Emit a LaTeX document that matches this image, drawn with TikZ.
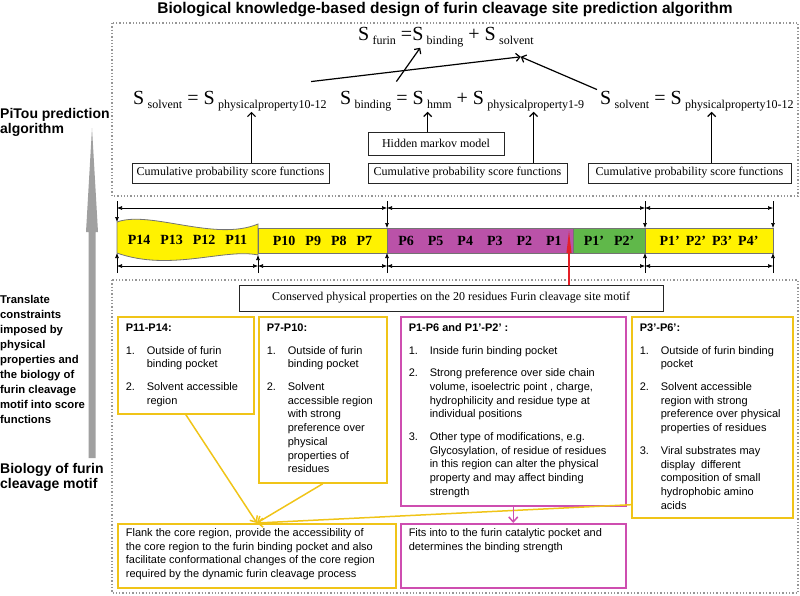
\documentclass[tikz,border=0pt]{standalone}
\usepackage{fontspec}
\setmainfont{Liberation Serif}
\setsansfont{Liberation Sans}
\usepackage{tikz}
\usetikzlibrary{arrows.meta}
\usetikzlibrary{positioning,fit,calc}

\definecolor{barYellow}{RGB}{255,242,0}
\definecolor{barMagenta}{RGB}{186,82,168}
\definecolor{barGreen}{RGB}{96,184,74}
\definecolor{boxYellow}{RGB}{240,196,24}
\definecolor{boxMagenta}{RGB}{206,78,176}
\definecolor{frameGray}{RGB}{150,150,150}
\definecolor{arrowGray}{RGB}{160,160,160}
\definecolor{redLine}{RGB}{228,32,40}

\newcommand{\sbs}[1]{\,\raisebox{-4pt}{\fontsize{12}{12}\selectfont #1}}
\newcommand{\boxText}[3]{\parbox[c][#2][t]{#1}{#3}}

\begin{document}
\begin{tikzpicture}[
  x=1pt, y=-1pt,
  title/.style={font=\sffamily\bfseries\fontsize{15.5}{15.5}\selectfont, inner sep=0pt},
  sideText/.style={font=\sffamily\bfseries\fontsize{11.3}{15}\selectfont, align=left, anchor=north west, inner sep=0pt},
  eqText/.style={font=\fontsize{20}{20}\selectfont, inner sep=1pt, anchor=base west},
  frameBox/.style={draw=frameGray, dotted, line width=1.3pt},
  upArrow/.style={-{Straight Barb[length=4pt,width=8pt]}, line width=1.2pt},
  dimArrow/.style={{Latex[length=5pt,width=4pt]}-{Latex[length=5pt,width=4pt]}, line width=0.6pt},
  tickArrow/.style={-{Latex[length=5pt,width=4pt]}, line width=0.6pt}
]
	\useasboundingbox (0,0) rectangle (800,595);

	\tikzstyle{scoreBox} = [rectangle, draw=black!85, line width=0.9pt, minimum height=20pt, inner sep=0pt, text centered, font=\fontsize{12}{12}\selectfont]
	\tikzstyle{barSeg} = [rectangle, draw=black!55, line width=0.8pt, minimum height=25pt, inner sep=0pt, outer sep=0pt, font=\bfseries\fontsize{14}{14}\selectfont]
	\tikzstyle{yellowBox} = [rectangle, draw=boxYellow, line width=1.7pt, inner xsep=8pt, inner ysep=5pt, anchor=north west, font=\sffamily\fontsize{11}{13.7}\selectfont]
	\tikzstyle{magentaBox} = [rectangle, draw=boxMagenta, line width=1.5pt, inner xsep=8pt, inner ysep=5pt, anchor=north west, font=\sffamily\fontsize{11}{13.7}\selectfont]

	% titles and side labels
	\node (mainTitle) [title, anchor=base] at (445,13) {Biological knowledge-based design of furin cleavage site prediction algorithm};
	\node (pitouLabel) [sideText, font=\sffamily\bfseries\fontsize{14}{15}\selectfont] at (0,108) {PiTou prediction\\algorithm};
	\node (translateLabel) [sideText] at (0,295) {Translate\\constraints\\imposed by\\physical\\properties and\\the biology of\\furin cleavage\\motif into score\\functions};
	\node (biologyLabel) [sideText, font=\sffamily\bfseries\fontsize{14}{15}\selectfont] at (0,463) {Biology of furin\\cleavage motif};
	\fill[arrowGray] (88.5,458) -- (88.5,232) -- (86,232) -- (92,128) -- (98,232) -- (95.5,232) -- (95.5,458) -- cycle;

	% prediction algorithm
	\draw[frameBox] (112,23) rectangle (798,196);
	\node (eqFurin) [eqText] at (357,40) {S\sbs{furin} =S\sbs{binding} + S\sbs{solvent}};
	\node (eqLeft) [eqText] at (132,104) {S\sbs{solvent} = S\sbs{physicalproperty10-12}};
	\node (eqMid) [eqText] at (339,104) {S\sbs{binding} = S\sbs{hmm} + S\sbs{physicalproperty1-9}};
	\node (eqRight) [eqText] at (599,104) {S\sbs{solvent} = S\sbs{physicalproperty10-12}};

	\node (hiddenBox) [scoreBox, minimum width=136pt, minimum height=23pt] at (436,143.5) {Hidden markov model};
	\node (cumLeft) [scoreBox, minimum width=197pt] at (230.5,173) {Cumulative probability score functions};
	\node (cumMid) [scoreBox, minimum width=199pt] at (467.5,173) {Cumulative probability score functions};
	\node (cumRight) [scoreBox, minimum width=203pt] at (689.5,173) {Cumulative probability score functions};

	\coordinate (tipLeft) at ($(eqLeft.south west)!0.61!(eqLeft.south east)$);
	\coordinate (tipHmm) at ($(eqMid.south west)!0.36!(eqMid.south east)$);
	\coordinate (tipMid) at ($(eqMid.south west)!0.79!(eqMid.south east)$);
	\coordinate (tipRight) at ($(eqRight.south west)!0.575!(eqRight.south east)$);
	\draw[upArrow] (cumLeft.north -| tipLeft) -- (tipLeft);
	\draw[upArrow] (hiddenBox.north -| tipHmm) -- (tipHmm);
	\draw[upArrow] (cumMid.north -| tipMid) -- (tipMid);
	\draw[upArrow] (cumRight.north -| tipRight) -- (tipRight);

	\coordinate (tipSolvent) at ($(eqFurin.south west)!0.92!(eqFurin.south east)+(0,9)$);
	\coordinate (tipBinding) at ($(eqFurin.south west)!0.355!(eqFurin.south east)$);
	\draw[upArrow] ($(eqLeft.north west)!0.914!(eqLeft.north east)+(0,-8)$) -- (tipSolvent);
	\draw[upArrow] ($(eqMid.north west)!0.233!(eqMid.north east)+(0,-8)$) -- (tipBinding);
	\draw[upArrow] ($(eqRight.north west)+(-2,0)$) -- (tipSolvent);

	% residue bar
	\coordinate (waveNW) at (117,222);
	\coordinate (waveNE) at (258,224);
	\coordinate (waveSE) at (258,255);
	\coordinate (waveSW) at (117,253);
	\draw[draw=black!55, line width=0.8pt, fill=barYellow] (waveNW) .. controls (150,210) and (215,242) .. (waveNE) -- (waveSE) .. controls (225,248) and (170,272) .. (waveSW) -- cycle;
	\node (segP14) [font=\bfseries\fontsize{14}{14}\selectfont, inner sep=0pt] at (187.5,240) {P14\hspace{10pt}P13\hspace{10pt}P12\hspace{10pt}P11};
	\node (segP10) [barSeg, fill=barYellow, minimum width=129pt] at (322.5,240.5) {P10\hspace{10pt}P9\hspace{10pt}P8\hspace{10pt}P7};
	\node (segP6) [barSeg, fill=barMagenta, minimum width=186pt, right=0pt of segP10] {P6\hspace{14pt}P5\hspace{14pt}P4\hspace{14pt}P3\hspace{14pt}P2\hspace{14pt}P1};
	\node (segP1p) [barSeg, fill=barGreen, minimum width=72pt, right=0pt of segP6] {P1'\hspace{10pt}P2'};
	\node (segP4p) [barSeg, fill=barYellow, minimum width=128pt, right=0pt of segP1p] {P1'\hspace{6pt}P2'\hspace{6pt}P3'\hspace{6pt}P4'};

	\coordinate (tickTop) at (0,201);
	\coordinate (dimTop) at (0,208);
	\coordinate (dimBottom) at (0,266);
	\coordinate (tickBottom) at (0,273);
	\draw[tickArrow] (waveNW |- tickTop) -- (waveNW);
	\draw[tickArrow] (segP6.north west |- tickTop) -- (segP6.north west);
	\draw[tickArrow] (segP4p.north west |- tickTop) -- (segP4p.north west);
	\draw[tickArrow] (segP4p.north east |- tickTop) -- (segP4p.north east);
	\draw[dimArrow] (waveNW |- dimTop) -- (segP6.north west |- dimTop);
	\draw[dimArrow] (segP6.north west |- dimTop) -- (segP4p.north west |- dimTop);
	\draw[dimArrow] (segP4p.north west |- dimTop) -- (segP4p.north east |- dimTop);

	\draw[tickArrow] (waveSW |- tickBottom) -- (waveSW);
	\draw[tickArrow] (waveSE |- tickBottom) -- (waveSE);
	\draw[tickArrow] (segP6.south west |- tickBottom) -- (segP6.south west);
	\draw[tickArrow] (segP4p.south west |- tickBottom) -- (segP4p.south west);
	\draw[tickArrow] (segP4p.south east |- tickBottom) -- (segP4p.south east);
	\draw[dimArrow] (waveSW |- dimBottom) -- (waveSE |- dimBottom);
	\draw[dimArrow] (waveSE |- dimBottom) -- (segP6.south west |- dimBottom);
	\draw[dimArrow] (segP6.south west |- dimBottom) -- (segP4p.south west |- dimBottom);
	\draw[dimArrow] (segP4p.south west |- dimBottom) -- (segP4p.south east |- dimBottom);

	% biology of the motif
	\draw[frameBox] (112,280) rectangle (798,593);
	\node (conservedBox) [scoreBox, minimum width=424pt, minimum height=26pt] at (451,298) {Conserved physical properties on the 20 residues Furin cleavage site motif};
	\coordinate (cleavageSite) at (569,229);
	\draw[redLine, line width=2pt, -{Triangle[length=24pt,width=4.5pt]}] (conservedBox.north -| cleavageSite) -- (cleavageSite);

	\node (boxP11) [yellowBox] at (117,316) {\boxText{120pt}{87pt}{\begin{tabular}[t]{@{}p{21pt}@{}l@{}}
		\multicolumn{2}{@{}l@{}}{\textbf{P11-P14:}}\\[9pt]
		1. & Outside of furin\\
		   & binding pocket\\[9pt]
		2. & Solvent accessible\\
		   & region
	\end{tabular}}};
	\node (boxP7) [yellowBox] at (258,316) {\boxText{112pt}{156pt}{\begin{tabular}[t]{@{}p{21pt}@{}l@{}}
		\multicolumn{2}{@{}l@{}}{\textbf{P7-P10:}}\\[9pt]
		1. & Outside of furin\\
		   & binding pocket\\[9pt]
		2. & Solvent\\
		   & accessible region\\
		   & with strong\\
		   & preference over\\
		   & physical\\
		   & properties of\\
		   & residues
	\end{tabular}}};
	\node (boxP1) [magentaBox] at (400,316) {\boxText{209pt}{179pt}{\begin{tabular}[t]{@{}p{21pt}@{}l@{}}
		\multicolumn{2}{@{}l@{}}{\textbf{P1-P6 and P1'-P2' :}}\\[9pt]
		1. & Inside furin binding pocket\\[9pt]
		2. & Strong preference over side chain\\
		   & volume, isoelectric point , charge,\\
		   & hydrophilicity and residue type at\\
		   & individual positions\\[9pt]
		3. & Other type of modifications, e.g.\\
		   & Glycosylation, of residue of residues\\
		   & in this region can alter the physical\\
		   & property and may affect binding\\
		   & strength
	\end{tabular}}};
	\node (boxP3) [yellowBox] at (631,316) {\boxText{145pt}{191pt}{\begin{tabular}[t]{@{}p{21pt}@{}l@{}}
		\multicolumn{2}{@{}l@{}}{\textbf{P3'-P6':}}\\[9pt]
		1. & Outside of furin binding\\
		   & pocket\\[9pt]
		2. & Solvent accessible\\
		   & region with strong\\
		   & preference over physical\\
		   & properties of residues\\[9pt]
		3. & Viral substrates may\\
		   & display\ \ different\\
		   & composition of small\\
		   & hydrophobic amino\\
		   & acids
	\end{tabular}}};

	\node (flankBox) [yellowBox, font=\sffamily\fontsize{11}{13.5}\selectfont] at (117,523) {\boxText{262pt}{54pt}{Flank the core region, provide the accessibility of\\the core region to the furin binding pocket and also\\facilitate conformational changes of the core region\\required by the dynamic furin cleavage process}};
	\node (fitsBox) [magentaBox, font=\sffamily\fontsize{11}{13.5}\selectfont] at (400,523) {\boxText{209pt}{54pt}{Fits into to the furin catalytic pocket and\\determines the binding strength}};

	\draw[boxYellow, line width=1.5pt, -{Straight Barb[length=5pt,width=9pt]}] (boxP11.south) -- (flankBox.north);
	\draw[boxYellow, line width=1.5pt, -{Straight Barb[length=5pt,width=9pt]}] (boxP7.south) -- (flankBox.north);
	\draw[boxYellow, line width=1.5pt, -{Straight Barb[length=5pt,width=9pt]}] ($(boxP3.south west)+(0,-14)$) -- (flankBox.north);
	\draw[boxMagenta, line width=1.5pt, -{Straight Barb[length=5pt,width=9pt]}] (boxP1.south) -- (fitsBox.north);

\end{tikzpicture}
\end{document}
